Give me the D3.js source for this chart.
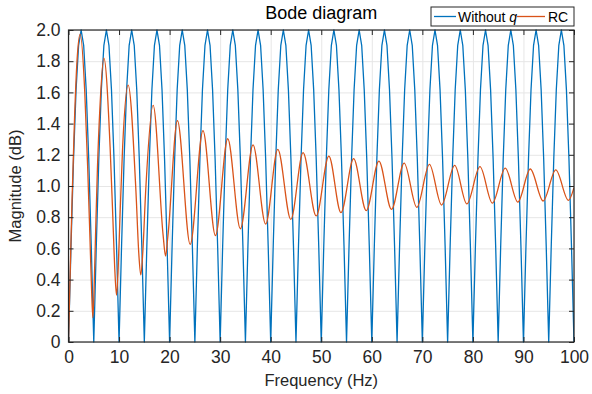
<!DOCTYPE html>
<html>
<head>
<meta charset="utf-8">
<script src="https://cdn.jsdelivr.net/npm/d3@7"></script>
<style>
  html, body { margin: 0; padding: 0; background: #fff; }
  svg { display: block; font-family: "Liberation Sans", Arial, Helvetica, sans-serif; }
</style>
</head>
<body>
<svg id="chart" width="592" height="394"></svg>
<script>
// ---------- data ----------
const xTicks = [0, 10, 20, 30, 40, 50, 60, 70, 80, 90, 100];
const xTickLabels = ["0", "10", "20", "30", "40", "50", "60", "70", "80", "90", "100"];
const yTicks = [0, 0.2, 0.4, 0.6, 0.8, 1.0, 1.2, 1.4, 1.6, 1.8, 2.0];
const yTickLabels = ["0", "0.2", "0.4", "0.6", "0.8", "1.0", "1.2", "1.4", "1.6", "1.8", "2.0"];

const seriesNames = ["Without q", "RC"];

// "Without q": magnitude sampled every 0.5 Hz from 0 to 100 Hz
const blueStep = 0.5;
const blueMag = [
  0, 0.618, 1.176, 1.618, 1.902, 2.0, 1.902, 1.618, 1.176, 0.618,
  0, 0.618, 1.176, 1.618, 1.902, 2.0, 1.902, 1.618, 1.176, 0.618,
  0, 0.618, 1.176, 1.618, 1.902, 2.0, 1.902, 1.618, 1.176, 0.618,
  0, 0.618, 1.176, 1.618, 1.902, 2.0, 1.902, 1.618, 1.176, 0.618,
  0, 0.618, 1.176, 1.618, 1.902, 2.0, 1.902, 1.618, 1.176, 0.618,
  0, 0.618, 1.176, 1.618, 1.902, 2.0, 1.902, 1.618, 1.176, 0.618,
  0, 0.618, 1.176, 1.618, 1.902, 2.0, 1.902, 1.618, 1.176, 0.618,
  0, 0.618, 1.176, 1.618, 1.902, 2.0, 1.902, 1.618, 1.176, 0.618,
  0, 0.618, 1.176, 1.618, 1.902, 2.0, 1.902, 1.618, 1.176, 0.618,
  0, 0.618, 1.176, 1.618, 1.902, 2.0, 1.902, 1.618, 1.176, 0.618,
  0, 0.618, 1.176, 1.618, 1.902, 2.0, 1.902, 1.618, 1.176, 0.618,
  0, 0.618, 1.176, 1.618, 1.902, 2.0, 1.902, 1.618, 1.176, 0.618,
  0, 0.618, 1.176, 1.618, 1.902, 2.0, 1.902, 1.618, 1.176, 0.618,
  0, 0.618, 1.176, 1.618, 1.902, 2.0, 1.902, 1.618, 1.176, 0.618,
  0, 0.618, 1.176, 1.618, 1.902, 2.0, 1.902, 1.618, 1.176, 0.618,
  0, 0.618, 1.176, 1.618, 1.902, 2.0, 1.902, 1.618, 1.176, 0.618,
  0, 0.618, 1.176, 1.618, 1.902, 2.0, 1.902, 1.618, 1.176, 0.618,
  0, 0.618, 1.176, 1.618, 1.902, 2.0, 1.902, 1.618, 1.176, 0.618,
  0, 0.618, 1.176, 1.618, 1.902, 2.0, 1.902, 1.618, 1.176, 0.618,
  0, 0.618, 1.176, 1.618, 1.902, 2.0, 1.902, 1.618, 1.176, 0.618,
  0
];

// "RC": key points (frequency, magnitude)
const rcFreq = [
  0, 0.3, 0.7, 1.2, 1.7, 2.31,
  3.22, 3.78, 4.26, 4.58, 4.82, 5.03, 5.31, 5.72, 6.21, 7.0,
  8.23, 8.78, 9.18, 9.5, 9.79, 10.16, 10.67, 11.8,
  13.35, 13.9, 14.3, 14.69, 15.24, 16.75,
  18.73, 19.2, 19.67, 21.55,
  24.07, 26.6, 29.07, 31.5, 34.0, 36.5, 39.0, 41.4, 43.98, 46.4,
  49.0, 51.5, 53.9, 56.4, 58.9, 61.4, 63.9, 66.4, 68.9, 71.4,
  73.8, 76.4, 78.8, 81.4, 83.85, 86.4, 88.9, 91.35, 93.9, 96.4, 98.9, 100
];
const rcMag = [
  0, 0.40, 0.91, 1.44, 1.81, 1.974,
  1.60, 1.13, 0.65, 0.32, 0.156, 0.31, 0.64, 1.11, 1.50, 1.82,
  1.25, 0.79, 0.45, 0.30, 0.44, 0.78, 1.22, 1.647,
  0.96, 0.57, 0.43, 0.57, 0.95, 1.517,
  0.68, 0.551, 0.68, 1.419,
  0.626, 1.355, 0.682, 1.303, 0.726, 1.263, 0.756, 1.235, 0.786, 1.214,
  0.808, 1.192, 0.829, 1.175, 0.842, 1.160, 0.850, 1.147, 0.863, 1.139,
  0.878, 1.132, 0.885, 1.124, 0.890, 1.115, 0.897, 1.109, 0.904, 1.103, 0.908, 0.99
];

// ---------- layout ----------
const W = 592, H = 394;
const plot = { left: 68.5, right: 574, top: 30, bottom: 342 };
const colors = { blue: "#0072BD", red: "#D95319", axis: "#262626", grid: "#e6e6e6" };

const svg = d3.select("#chart");
const x = d3.scaleLinear().domain([0, 100]).range([plot.left, plot.right]);
const y = d3.scaleLinear().domain([0, 2]).range([plot.bottom, plot.top]);

// grid
svg.append("g")
  .attr("transform", `translate(0,${plot.bottom})`)
  .call(d3.axisBottom(x).tickValues(xTicks).tickSize(-(plot.bottom - plot.top)).tickFormat(""))
  .call(g => g.select(".domain").remove())
  .call(g => g.selectAll("line").attr("stroke", colors.grid).attr("stroke-width", 1));
svg.append("g")
  .attr("transform", `translate(${plot.left},0)`)
  .call(d3.axisLeft(y).tickValues(yTicks).tickSize(-(plot.right - plot.left)).tickFormat(""))
  .call(g => g.select(".domain").remove())
  .call(g => g.selectAll("line").attr("stroke", colors.grid).attr("stroke-width", 1));

// clip
svg.append("clipPath").attr("id", "clip")
  .append("rect").attr("x", plot.left).attr("y", plot.top - 2)
  .attr("width", plot.right - plot.left).attr("height", plot.bottom - plot.top + 3);

const blueData = blueMag.map((v, i) => [i * blueStep, v]);
const rcData = rcFreq.map((f, i) => [f, rcMag[i]]);

const lineLin = d3.line().x(d => x(d[0])).y(d => y(d[1])).curve(d3.curveLinear);
const lineSmooth = d3.line().x(d => x(d[0])).y(d => y(d[1])).curve(d3.curveMonotoneX);

const curves = svg.append("g").attr("clip-path", "url(#clip)");
curves.append("path").datum(blueData)
  .attr("d", lineLin).attr("fill", "none")
  .attr("stroke", colors.blue).attr("stroke-width", 1.3).attr("stroke-linejoin", "round");
curves.append("path").datum(rcData)
  .attr("d", lineSmooth).attr("fill", "none")
  .attr("stroke", colors.red).attr("stroke-width", 1.3).attr("stroke-linejoin", "round");

// axes
const tickFont = 17.5;
const styleAxis = g => {
  g.select(".domain").remove();
  g.selectAll("line").attr("stroke", colors.axis).attr("stroke-width", 1);
  g.selectAll("text").attr("fill", colors.axis).style("font-size", tickFont + "px")
    .style("font-family", '"Liberation Sans", Arial, sans-serif');
};
svg.append("g")
  .attr("transform", `translate(0,${plot.bottom})`)
  .call(d3.axisBottom(x).tickValues(xTicks).tickFormat((d, i) => xTickLabels[i])
    .tickSizeInner(-5).tickSizeOuter(0).tickPadding(9))
  .call(styleAxis);
svg.append("g")
  .attr("transform", `translate(0,${plot.top})`)
  .call(d3.axisTop(x).tickValues(xTicks).tickFormat("").tickSizeInner(-5).tickSizeOuter(0))
  .call(styleAxis);
svg.append("g")
  .attr("transform", `translate(${plot.left},0)`)
  .call(d3.axisLeft(y).tickValues(yTicks).tickFormat((d, i) => yTickLabels[i])
    .tickSizeInner(-5).tickSizeOuter(0).tickPadding(8))
  .call(styleAxis);
svg.append("g")
  .attr("transform", `translate(${plot.right},0)`)
  .call(d3.axisRight(y).tickValues(yTicks).tickFormat("").tickSizeInner(-5).tickSizeOuter(0))
  .call(styleAxis);

// box
svg.append("rect")
  .attr("x", plot.left).attr("y", plot.top)
  .attr("width", plot.right - plot.left).attr("height", plot.bottom - plot.top)
  .attr("fill", "none").attr("stroke", colors.axis).attr("stroke-width", 1.2);

// labels
svg.append("text").attr("x", (plot.left + plot.right) / 2).attr("y", 19)
  .attr("text-anchor", "middle").attr("fill", "#000").style("font-size", "18px")
  .text("Bode diagram");
svg.append("text").attr("x", (plot.left + plot.right) / 2).attr("y", 386)
  .attr("text-anchor", "middle").attr("fill", colors.axis).style("font-size", "16.5px")
  .text("Frequency (Hz)");
svg.append("text")
  .attr("transform", `translate(21,${(plot.top + plot.bottom) / 2}) rotate(-90)`)
  .attr("text-anchor", "middle").attr("fill", colors.axis).style("font-size", "16.5px")
  .text("Magnitude (dB)");

// legend
const lg = svg.append("g");
lg.append("rect").attr("x", 431).attr("y", 7).attr("width", 143).attr("height", 19)
  .attr("fill", "#fff").attr("stroke", colors.axis).attr("stroke-width", 1);
lg.append("line").attr("x1", 434).attr("x2", 456).attr("y1", 16.5).attr("y2", 16.5)
  .attr("stroke", colors.blue).attr("stroke-width", 1.3);
const t1 = lg.append("text").attr("x", 458).attr("y", 21.5).attr("fill", "#000")
  .style("font-size", "14px");
t1.append("tspan").text("Without ");
t1.append("tspan").style("font-style", "italic").text("q");
lg.append("line").attr("x1", 517).attr("x2", 545).attr("y1", 16.5).attr("y2", 16.5)
  .attr("stroke", colors.red).attr("stroke-width", 1.3);
lg.append("text").attr("x", 548).attr("y", 21.5).attr("fill", "#000")
  .style("font-size", "14px").text(seriesNames[1]);
</script>
</body>
</html>
